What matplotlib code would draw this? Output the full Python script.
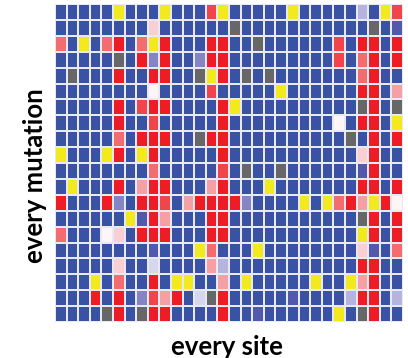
import numpy as np
import matplotlib
matplotlib.use("Agg")
import matplotlib.pyplot as plt
from matplotlib.colors import ListedColormap

# one letter per cell, top row first (20 mutations x 30 sites)
rows = [
    "BBBBBYBBBYBBBrYBBBBBYBBBBBvBYr",
    "BBBBBBBBLBBBBBBGBBBBBBBBBBBGBD",
    "SBYBSRBSYRBBBRRBBGBBBBBBrBRRBR",
    "BBBBBGBRVRBBVRRBBBBBBBBBrBSRBR",
    "BGBBBRBBRRBBGYRBGBGBBBBBBBSRBB",
    "BBBBBBBBWBBBBrBBBBBYBBBBBBRRBP",
    "BBBBBRBrRRBBBBRYBBBBBBBBBBGRBG",
    "BBBBBRBBrBBBBBRBBBBBBBBBWBRRBY",
    "BBBBBSBRRRBBGRRBBBBBBBBBBGBRBR",
    "YBBBYRBYRBBBBBRBBBBBBBBBBBLRBB",
    "BBBBBBBBSBBBBBrBGBBGBBBBBBDRBB",
    "BYBBBRBPRRBBBPRBBBYBBBBBBBRRBR",
    "RBBBRVBRRrBPRRRRVBBBBYBYSRPYRW",
    "BBBBBBYDRPBBBRRBBBBBBBBBBBGRBR",
    "SBBBWLBRRRBBBRRBBBBBBBBBBBYRBR",
    "BBBBBBBBDBBBYSBBBYBBBBBBBBLDBS",
    "BBBBBLBBUBBBBPvBBBBBBBBBBBRRBB",
    "BBBYBSBBRBYYBBPBYBBBBBYBBYPRBB",
    "BBBRBRBVrPRBUGRBBBBBDBBBBvRRBv",
    "BBBBGRBGRRBBBBRBBDBBBBBBYBGRBB",
]

palette = {
    "B": "#3a52a4",  # blue
    "D": "#5258ac",
    "V": "#8585c4",
    "v": "#b4b4dc",
    "U": "#d6d6ec",
    "W": "#fdf5f6",
    "L": "#f9cfd3",
    "P": "#f5a0a4",
    "S": "#f26c70",
    "r": "#f0454a",
    "R": "#ee1d25",  # red
    "Y": "#f2ea1c",  # yellow
    "G": "#676767",  # grey
}
codes = list(palette.keys())
grid = np.array([[codes.index(ch) for ch in row] for row in rows])
cmap = ListedColormap(list(palette.values()))

fig = plt.figure(figsize=(4.08, 3.58), dpi=100)
ax = fig.add_axes([55 / 408, 1 - 322 / 358, 348 / 408, 318 / 358])
ax.pcolormesh(grid, cmap=cmap, vmin=-0.5, vmax=len(codes) - 0.5,
              edgecolors="#e9e9f4", linewidth=1.1)
ax.set_xlim(0, grid.shape[1])
ax.set_ylim(grid.shape[0], 0)
ax.axis("off")

fig.text(227 / 408, 1 - 347 / 358, "every site", ha="center", va="center",
         fontsize=18.5, fontweight="bold", family="Lato")
fig.text(35 / 408, 1 - 176 / 358, "every mutation", ha="center", va="center",
         rotation=90, fontsize=18.5, fontweight="bold", family="Lato")

fig.savefig("out.png", dpi=100)
